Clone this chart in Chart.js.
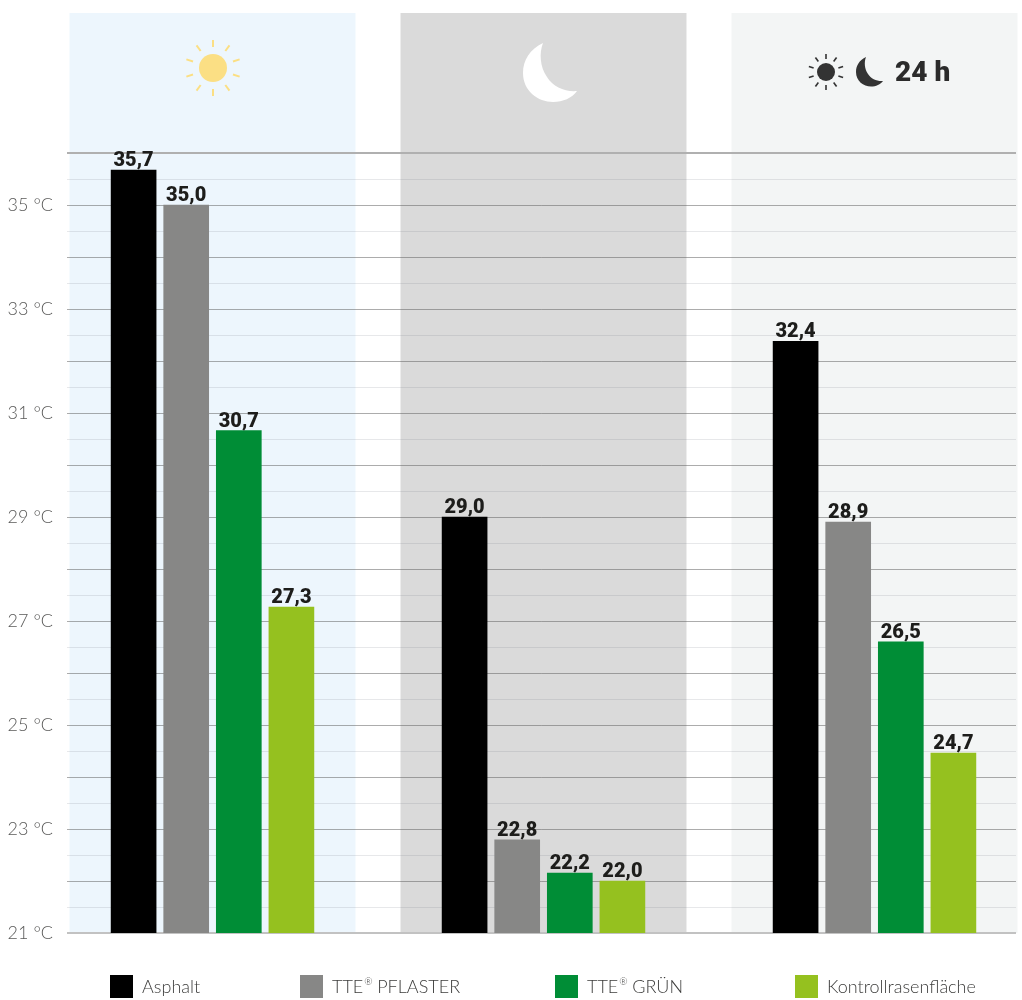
<!DOCTYPE html>
<html lang="de">
<head>
<meta charset="utf-8">
<title>Oberflächentemperaturen</title>
<script src="https://cdn.jsdelivr.net/npm/chart.js@4"></script>
<style>
  html, body { margin: 0; padding: 0; background: #fff; }
  canvas { display: block; }
</style>
</head>
<body>
<canvas id="chart" width="1022" height="1000"></canvas>
<script>
// Daten: Balkenhoehen wie im Bild gemessen
const periods = ['Tag', 'Nacht', '24 h'];
const surfaces = ['Asphalt', 'TTE® PFLASTER', 'TTE® GRÜN', 'Kontrollrasenfläche'];
const asphalt = [35.67, 29.0, 32.38];
const pflaster = [35.0, 22.79, 28.9];
const gruen = [30.66, 22.15, 26.6];
const rasen = [27.27, 22.0, 24.46];
// Aufgedruckte Werte (weichen im Original teils von der Balkenhoehe ab)
const asphaltText = ['35,7', '29,0', '32,4'];
const pflasterText = ['35,0', '22,8', '28,9'];
const gruenText = ['30,7', '22,2', '26,5'];
const rasenText = ['27,3', '22,0', '24,7'];
const tickMin = 21;
const tickMax = 36;
const tickStep = 0.5;

const surfaceColors = ['#000000', '#878786', '#008d36', '#95c11f'];
const panelColors = ['#edf6fd', '#dadada', '#f3f5f5'];
const legendX = [110, 300, 555, 795];

/* ================================
   HINTERGRUND (Panels und Symbole)
================================= */
const PANEL_HALF = 0.432;
const PANEL_TOP = 13;

const drawSun = (ctx, cx, cy, r, inner, outer, rayWidth, color) => {
  ctx.save();
  ctx.fillStyle = color;
  ctx.strokeStyle = color;
  ctx.lineWidth = rayWidth;
  ctx.beginPath();
  ctx.arc(cx, cy, r, 0, Math.PI * 2);
  ctx.fill();
  for (let i = 0; i < 10; i++) {
    const a = (i * 36 - 90) * Math.PI / 180;
    ctx.beginPath();
    ctx.moveTo(cx + Math.cos(a) * inner, cy + Math.sin(a) * inner);
    ctx.lineTo(cx + Math.cos(a) * outer, cy + Math.sin(a) * outer);
    ctx.stroke();
  }
  ctx.restore();
};

// x, y = obere Spitze der Sichel
const drawMoon = (ctx, x, y, s, color) => {
  ctx.save();
  ctx.translate(x, y);
  ctx.scale(s, s);
  ctx.fillStyle = color;
  ctx.beginPath();
  ctx.moveTo(0, 0);
  ctx.bezierCurveTo(-13, 6, -20, 17, -20, 30);
  ctx.bezierCurveTo(-20, 48, -5, 59, 10, 59);
  ctx.bezierCurveTo(20, 59, 29, 55, 34, 48);
  ctx.bezierCurveTo(22, 49, 10, 44, 4, 34);
  ctx.bezierCurveTo(-3, 24, -4, 10, 0, 0);
  ctx.fill();
  ctx.restore();
};

const backgroundPlugin = {
  id: 'background',
  beforeDraw(chart) {
    const { ctx, scales: { x, y } } = chart;
    panelColors.forEach((color, i) => {
      const left = x.getPixelForValue(i - PANEL_HALF);
      const right = x.getPixelForValue(i + PANEL_HALF);
      ctx.fillStyle = color;
      ctx.fillRect(left, PANEL_TOP, right - left, y.getPixelForValue(tickMin) - PANEL_TOP);
    });

    drawSun(ctx, 213, 68, 14, 21, 28, 2, '#fbdf84');
    drawMoon(ctx, 543, 43, 1, '#ffffff');
    drawSun(ctx, 826, 72, 9, 13, 18, 1.6, '#333333');
    drawMoon(ctx, 866, 57, 0.5, '#333333');

    ctx.save();
    ctx.fillStyle = '#2b2b2b';
    ctx.font = '900 28px Roboto';
    ctx.textAlign = 'left';
    ctx.textBaseline = 'alphabetic';
    ctx.fillText(periods[2], 895, 81);
    ctx.restore();
  }
};

/* ================================
   WERTE UEBER DEN BALKEN + LEGENDE
================================= */
const drawLegendText = (ctx, name, x, y) => {
  const [before, after] = name.split('®');
  ctx.font = '300 18px Lato';
  ctx.fillText(before, x, y);
  if (after === undefined) return;
  const w = ctx.measureText(before).width;
  ctx.font = '300 10px Lato';
  ctx.fillText('®', x + w + 1, y - 5);
  ctx.font = '300 18px Lato';
  ctx.fillText(after, x + w + 9, y);
};

const labelsPlugin = {
  id: 'valueLabels',
  afterDatasetsDraw(chart) {
    const { ctx } = chart;
    const texts = [asphaltText, pflasterText, gruenText, rasenText];
    ctx.save();
    ctx.fillStyle = '#1d1d1b';
    ctx.font = '900 20px Roboto';
    ctx.textAlign = 'center';
    ctx.textBaseline = 'alphabetic';
    texts.forEach((row, i) => {
      chart.getDatasetMeta(i).data.forEach((bar, j) => {
        ctx.fillText(row[j], bar.x, bar.y - 4);
      });
    });
    ctx.restore();
  },
  afterDraw(chart) {
    const { ctx } = chart;
    ctx.save();
    ctx.textAlign = 'left';
    ctx.textBaseline = 'middle';
    surfaces.forEach((name, i) => {
      ctx.fillStyle = surfaceColors[i];
      ctx.fillRect(legendX[i], 975, 23, 23);
      ctx.fillStyle = '#3c3c3b';
      drawLegendText(ctx, name, legendX[i] + 32, 987);
    });
    ctx.restore();
  }
};

/* ================================
   DIAGRAMM
================================= */
class TemperaturChart {
  constructor() {
    this.canvas = document.getElementById('chart');
    this.chart = null;
    this.init();
  }

  init() {
    const series = [asphalt, pflaster, gruen, rasen];
    const isMajor = v => Number.isInteger(v);
    const isEdge = v => v === tickMin || v === tickMax;

    this.chart = new Chart(this.canvas, {
      type: 'bar',
      data: {
        datasets: series.map((values, i) => ({
          label: surfaces[i],
          data: values.map((y, x) => ({ x, y })),
          backgroundColor: surfaceColors[i],
          barThickness: 52.6,
          maxBarThickness: 45
        }))
      },
      options: {
        responsive: false,
        animation: false,
        layout: { padding: { top: 153, right: 6, bottom: 67, left: 0 } },
        plugins: {
          legend: { display: false },
          tooltip: { enabled: false }
        },
        scales: {
          x: {
            type: 'linear',
            display: false,
            offset: false,
            min: -0.4396,
            max: 2.4275
          },
          y: {
            min: tickMin,
            max: tickMax,
            afterFit: scale => { scale.width = 67; },
            border: { display: false },
            ticks: {
              stepSize: tickStep,
              autoSkip: false,
              padding: 14,
              color: '#5a5a59',
              font: { family: 'Lato', size: 18, weight: '300' },
              callback: v => (v % 2 === 1 ? `${v} °C` : '')
            },
            grid: {
              drawTicks: false,
              color: c => {
                const v = c.tick.value;
                if (v === tickMin) return '#c2c2c2';
                if (isEdge(v)) return '#b0b0b0';
                return isMajor(v) ? 'rgba(90,90,90,0.5)' : 'rgba(120,130,140,0.18)';
              },
              lineWidth: c => (isEdge(c.tick.value) ? 2 : 1)
            }
          }
        }
      },
      plugins: [backgroundPlugin, labelsPlugin]
    });
  }
}

document.addEventListener('DOMContentLoaded', () => new TemperaturChart());
</script>
</body>
</html>
